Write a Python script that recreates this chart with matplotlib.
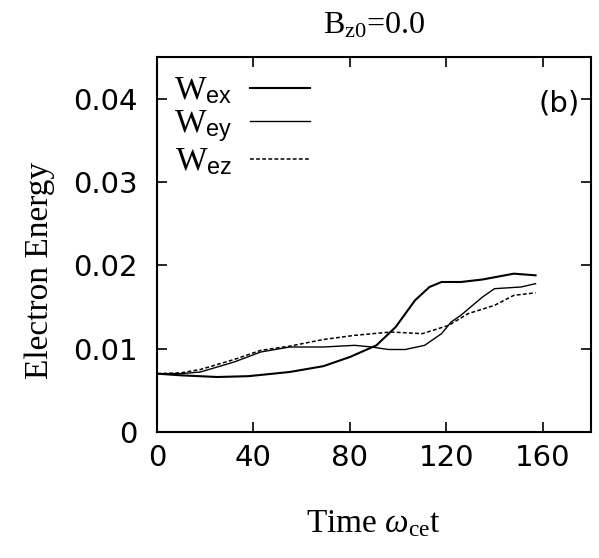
import matplotlib
matplotlib.use("Agg")
import matplotlib.pyplot as plt

plt.rcParams["mathtext.fontset"] = "custom"
plt.rcParams["mathtext.rm"] = "Liberation Serif"
plt.rcParams["mathtext.it"] = "Liberation Serif:italic"
plt.rcParams["mathtext.sf"] = "Liberation Sans"

# values
t_ex = [0, 10, 25, 38, 55, 69, 80, 91, 99, 107, 113, 118, 126, 135, 148, 157]
w_ex = [0.0070, 0.0068, 0.0066, 0.0067, 0.0072, 0.0079, 0.0090, 0.0104, 0.0126, 0.0158,
        0.0174, 0.0180, 0.0180, 0.0183, 0.0190, 0.0188]

t_ey = [0, 10, 18, 32, 43, 55, 69, 82, 89, 96, 103, 111, 118, 122, 126, 135, 140, 151, 157]
w_ey = [0.0070, 0.0070, 0.0072, 0.0084, 0.0096, 0.0102, 0.0102, 0.0104, 0.0102, 0.0099,
        0.0099, 0.0104, 0.0118, 0.0132, 0.0140, 0.0162, 0.0172, 0.0174, 0.0178]

t_ez = [0, 10, 18, 32, 43, 55, 69, 82, 97, 110, 121, 129, 140, 148, 157]
w_ez = [0.0070, 0.0071, 0.0075, 0.0087, 0.0098, 0.0103, 0.0111, 0.0116, 0.0120, 0.0118,
        0.0128, 0.0142, 0.0152, 0.0164, 0.0167]

x_ticks = [0, 40, 80, 120, 160]
y_ticks = [0, 0.01, 0.02, 0.03, 0.04]
y_tick_labels = ["0", "0.01", "0.02", "0.03", "0.04"]

fig = plt.figure(figsize=(5.99, 5.58), dpi=100)
ax = fig.add_axes([157 / 599, 1 - 432 / 558, (591 - 157) / 599, (432 - 57) / 558])

ax.plot(t_ex, w_ex, color="black", lw=1.5, label=r"$\mathrm{W}_{\mathsf{ex}}$")
ax.plot(t_ey, w_ey, color="black", lw=1.0, label=r"$\mathrm{W}_{\mathsf{ey}}$")
ax.plot(t_ez, w_ez, color="black", lw=1.1, ls=(0, (2.5, 1.5)), label=r"$\mathrm{W}_{\mathsf{ez}}$")

ax.set_xlim(0, 180)
ax.set_ylim(0, 0.045)
ax.set_xticks(x_ticks)
ax.set_yticks(y_ticks)
ax.set_yticklabels(y_tick_labels)
ax.tick_params(direction="in", length=7, width=1.2, top=True, right=True,
               labelsize=21)
ax.tick_params(axis="x", pad=9)
ax.tick_params(axis="y", pad=14)
for lab in ax.get_xticklabels() + ax.get_yticklabels():
    lab.set_fontfamily("DejaVu Sans")
for sp in ax.spines.values():
    sp.set_linewidth(1.5)

ax.set_xlabel(r"Time $\omega_{\mathrm{ce}}\mathrm{t}$", fontsize=24,
              family="Liberation Serif", labelpad=26)
ax.set_ylabel("Electron Energy", fontsize=24, family="Liberation Serif")
ax.yaxis.set_label_coords(-0.235, 0.43)
ax.set_title(r"B$_{\mathrm{z0}}$=0.0", fontsize=23, family="Liberation Serif", pad=17)

ax.legend(loc="upper left", frameon=False, markerfirst=False, fontsize=24,
          handlelength=1.8, handletextpad=0.55, labelspacing=0.0,
          borderaxespad=0.1, bbox_to_anchor=(0.0, 1.0))
ax.text(0.975, 0.875, "(b)", transform=ax.transAxes, ha="right", va="center",
        fontsize=21, family="DejaVu Sans")

fig.savefig("out.png", dpi=100)
